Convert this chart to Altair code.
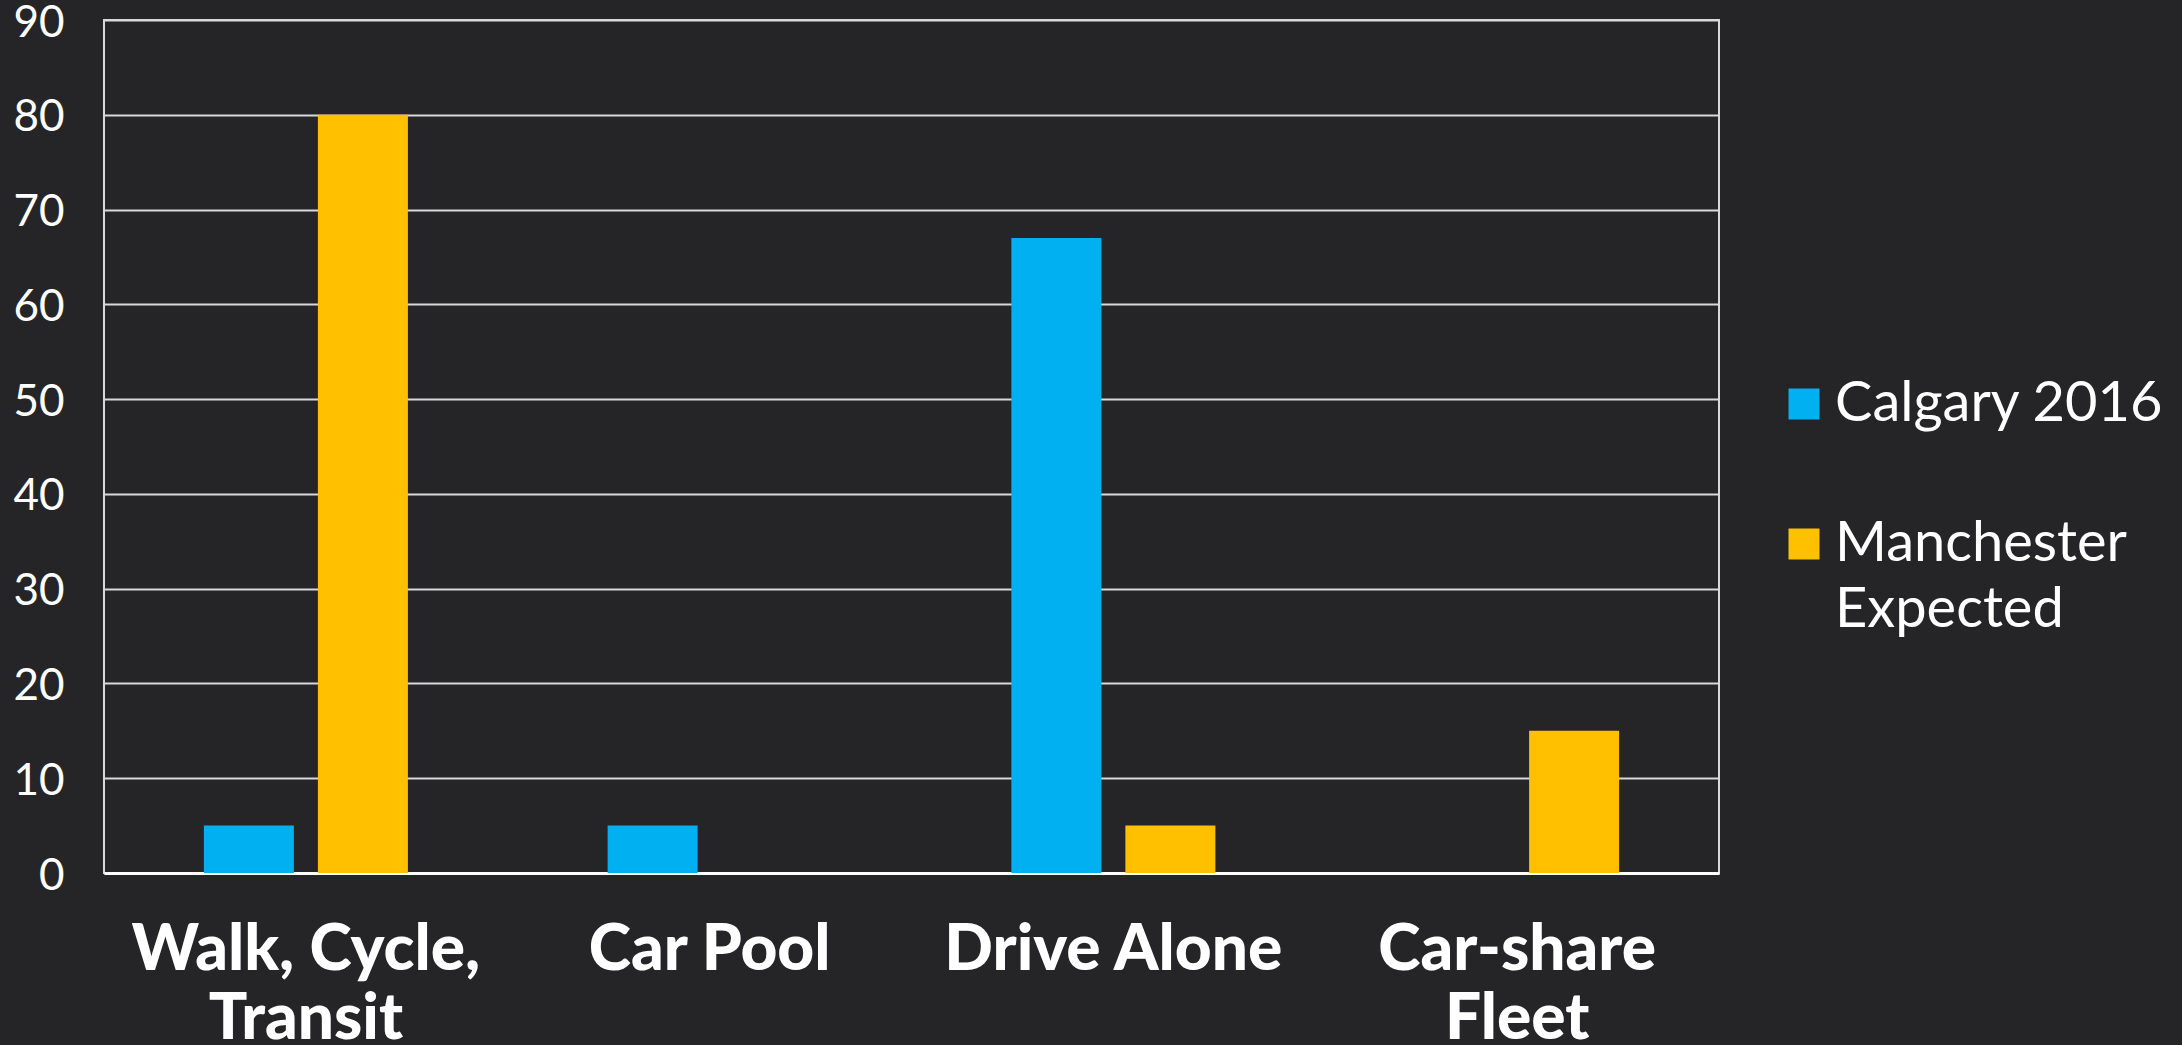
import altair as alt
import pandas as pd

categories = ["Walk, Cycle, Transit", "Car Pool", "Drive Alone", "Car-share Fleet"]
category_lines = [["Walk, Cycle,", "Transit"], ["Car Pool"], ["Drive Alone"], ["Car-share", "Fleet"]]
series = ["Calgary 2016", "Manchester Expected"]
series_lines = [["Calgary 2016"], ["Manchester", "Expected"]]
calgary_2016 = [5, 5, 67, 0]
manchester_expected = [80, 0, 5, 15]
y_ticks = [0, 10, 20, 30, 40, 50, 60, 70, 80, 90]
colors = ["#00B0F0", "#FFC000"]

rows = []
for i, c in enumerate(categories):
    rows.append({"category": c, "series": series[0], "value": calgary_2016[i]})
    rows.append({"category": c, "series": series[1], "value": manchester_expected[i]})
df = pd.DataFrame(rows)


def label_expr(names, lines):
    expr = "datum.value"
    for n, l in reversed(list(zip(names, lines))):
        arr = "[" + ",".join("'" + s + "'" for s in l) + "]"
        expr = f"datum.value === '{n}' ? {arr} : ({expr})"
    return expr


FONT = "Lato"

chart = alt.Chart(df).mark_bar().encode(
    x=alt.X(
        "category:N",
        sort=categories,
        scale=alt.Scale(paddingInner=0.4947, paddingOuter=0.2474),
        axis=alt.Axis(
            title=None, labelAngle=0, labelExpr=label_expr(categories, category_lines),
            labelFont=FONT, labelFontWeight=900, labelFontSize=64, labelColor="white",
            labelPadding=45, labelLineHeight=69, labelBaseline="top", ticks=False,
            domainColor="white", domainWidth=3, grid=False, labelLimit=0,
        ),
    ),
    xOffset=alt.XOffset("series:N", sort=series, scale=alt.Scale(paddingInner=0.2105, paddingOuter=0)),
    y=alt.Y(
        "value:Q",
        scale=alt.Scale(domain=[0, 90], nice=False),
        axis=alt.Axis(
            title=None, values=y_ticks, labelFont=FONT, labelFontSize=44, labelColor="white",
            labelPadding=40, domain=False, ticks=False, grid=True, gridColor="#d9d9d9", gridWidth=2,
            labelOffset=3,
        ),
    ),
    color=alt.Color(
        "series:N",
        sort=series,
        scale=alt.Scale(domain=series, range=colors),
        legend=alt.Legend(
            title=None, orient="none", legendX=1672, legendY=356, symbolType="square",
            symbolSize=961, symbolStrokeWidth=0, symbolOpacity=1, labelFont=FONT, labelFontSize=56,
            labelColor="white", labelOffset=3, labelLimit=0, rowPadding=84, padding=0,
            labelExpr=label_expr(series, series_lines),
        ),
    ),
).properties(
    width=1615,
    height=853,
    background="#252527",
    autosize=alt.AutoSizeParams(type="none"),
    padding={"left": 104, "top": 20, "right": 463, "bottom": 172},
).configure(
    view=alt.ViewConfig(stroke="#d9d9d9", strokeWidth=2),
    style={"guide-label": {"lineHeight": 66}},
)

chart.save("out.html", embed_options={"renderer": "svg", "actions": False})
